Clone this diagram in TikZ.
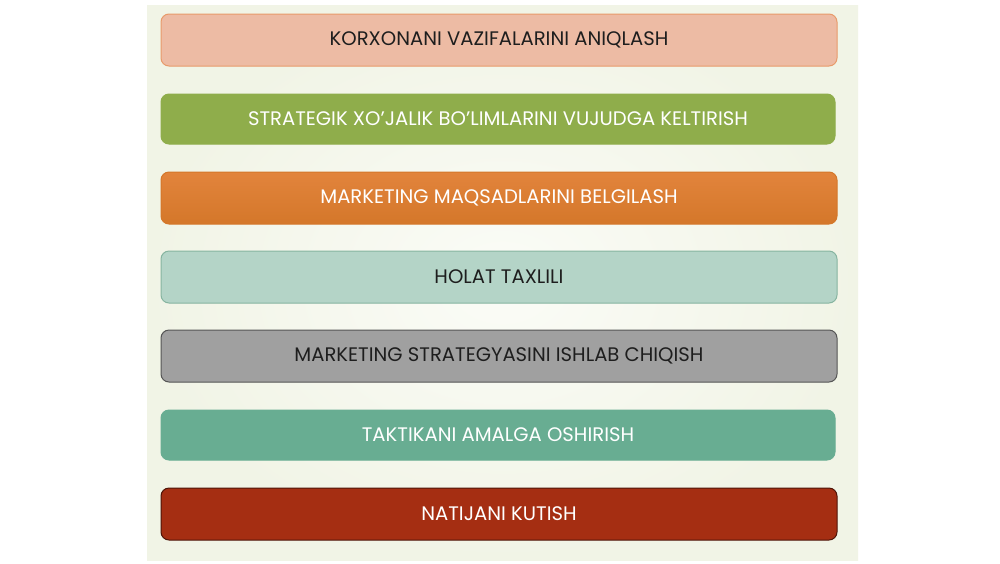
\documentclass[tikz,border=0pt]{standalone}
\usepackage{fontspec}
\setmainfont{Poppins}
\definecolor{panel}{HTML}{F1F4E6}
\definecolor{panelc}{HTML}{FBFCF7}
\definecolor{c1f}{HTML}{EDBBA4}\definecolor{c1d}{HTML}{E89A6A}
\definecolor{c2f}{HTML}{8FAD4B}
\definecolor{c3f}{HTML}{E2843C}\definecolor{c3b}{HTML}{D4772A}
\definecolor{c4f}{HTML}{B4D4C7}\definecolor{c4d}{HTML}{86B4A0}
\definecolor{c5f}{HTML}{A0A0A0}\definecolor{c5d}{HTML}{555555}
\definecolor{c6f}{HTML}{68AD92}
\definecolor{c7f}{HTML}{A52E12}\definecolor{c7d}{HTML}{4E1408}
\definecolor{txt}{HTML}{1E1E1E}
\newcommand{\barlbl}[1]{\raisebox{-1.3pt}{#1}}
\tikzset{
  bar/.style={rounded corners=4pt, minimum width=338pt, minimum height=26pt, inner sep=0pt,
    font=\fontsize{9.8pt}{11pt}\selectfont, line width=0.5pt},
}
\begin{document}
\begin{tikzpicture}[x=0.5pt,y=-0.5pt]
\useasboundingbox (0,0) rectangle (1000,563);
\fill[white] (0,0) rectangle (1000,563);
\shade[inner color=panelc, outer color=panel] (147,5) rectangle (858,560);
\node[bar, fill=c1f, draw=c1d, text=txt] (b1) at (499,40) {\barlbl{KORXONANI VAZIFALARINI ANIQLASH}};
\node[bar, fill=c2f, draw=c2f, text=white, minimum width=337pt, minimum height=25pt] (b2) at (498,119) {\barlbl{STRATEGIK XO’JALIK BO’LIMLARINI VUJUDGA KELTIRISH}};
\node[bar, top color=c3f, bottom color=c3b, draw=c3b, text=white] (b3) at (499,198) {\barlbl{MARKETING MAQSADLARINI BELGILASH}};
\node[bar, fill=c4f, draw=c4d, text=txt] (b4) at (499,277) {\barlbl{HOLAT TAXLILI}};
\node[bar, fill=c5f, draw=c5d, text=txt] (b5) at (499,356) {\barlbl{MARKETING STRATEGYASINI ISHLAB CHIQISH}};
\node[bar, fill=c6f, draw=c6f, text=white, minimum width=337pt, minimum height=25pt] (b6) at (498,435) {\barlbl{TAKTIKANI AMALGA OSHIRISH}};
\node[bar, fill=c7f, draw=c7d, text=white] (b7) at (499,514) {\barlbl{NATIJANI KUTISH}};
\end{tikzpicture}
\end{document}
